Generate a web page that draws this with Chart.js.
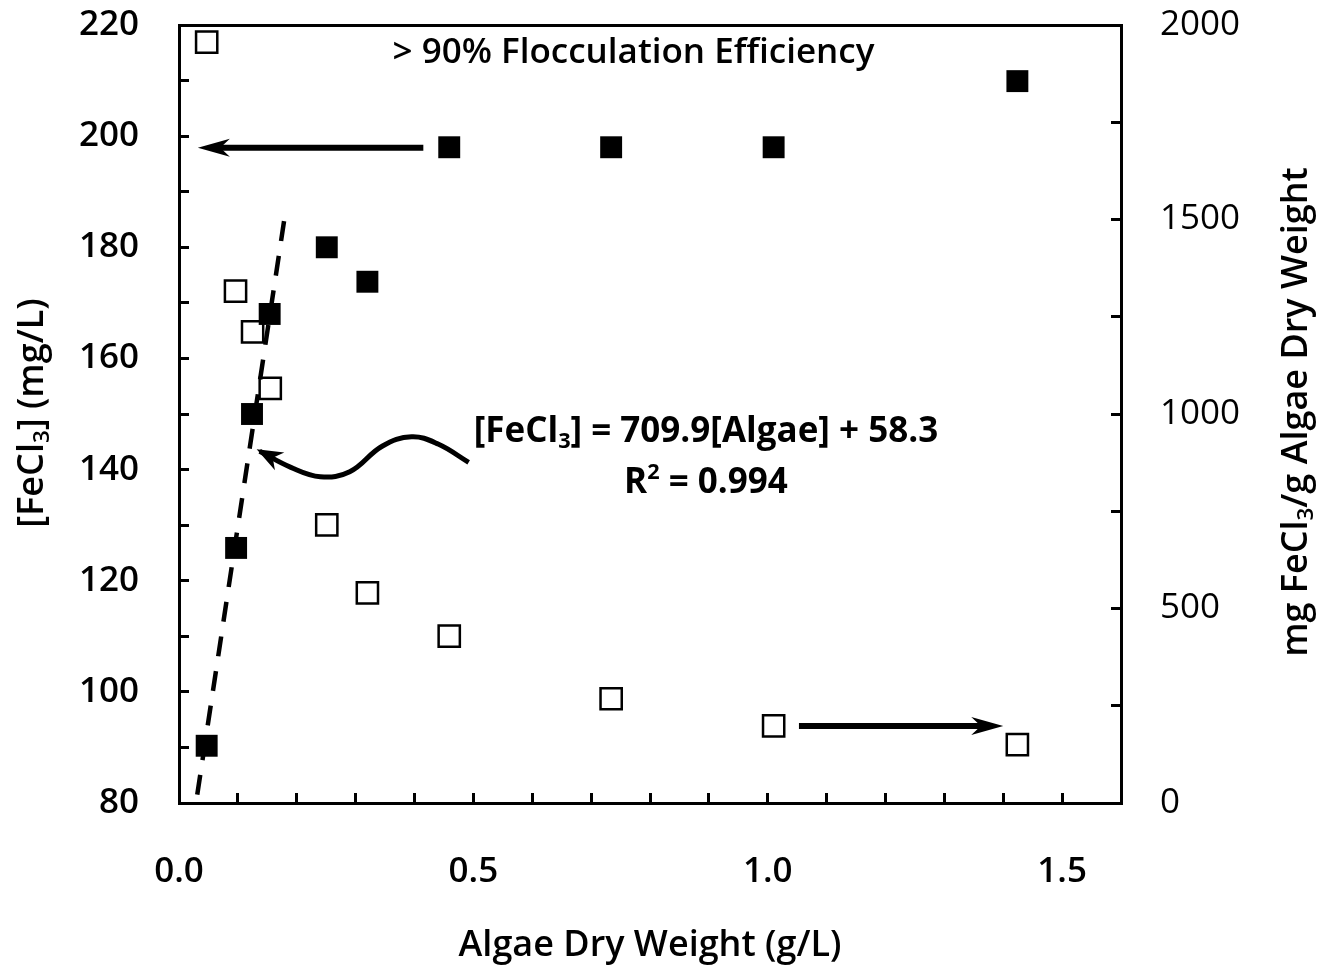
<!DOCTYPE html>
<html>
<head>
<meta charset="utf-8">
<script src="https://cdn.jsdelivr.net/npm/chart.js@4.4.1/dist/chart.umd.min.js"></script>
<style>
  html, body { margin: 0; padding: 0; background: #fff; }
  canvas { display: block; }
</style>
</head>
<body>
<canvas id="chart" width="1317" height="968"></canvas>
<script>
// algae dry weight (g/L)
const algaeDW = [0.047, 0.097, 0.124, 0.154, 0.251, 0.320, 0.459, 0.734, 1.010, 1.424];
// [FeCl3] needed for >90% flocculation (mg/L), left axis
const fecl3Dose = [90.3, 125.9, 150.0, 168.0, 180.0, 173.8, 198.0, 198.0, 198.0, 209.9];
// x of open squares (same samples)
const algaeDWOpen = [0.047, 0.096, 0.125, 0.155, 0.251, 0.320, 0.459, 0.734, 1.010, 1.424];
// mg FeCl3 / g algae dry weight, right axis
const specificDose = [1956, 1316, 1211, 1066, 715, 540, 429, 268, 198, 150];

// linear fit drawn as dashed line, end points
const fitX = [0.031, 0.181];
const fitY = [81.5, 186.5];

// wavy pointer to the fit line (left axis units)
const waveX = [0.137, 0.19, 0.24, 0.29, 0.345, 0.395, 0.44, 0.492];
const waveY = [143.3, 140.4, 138.7, 139.6, 144.2, 145.9, 144.6, 141.3];

// straight arrows: [x0, y0, x1, y1] in data units (tip is x1,y1)
const arrowLeft = [0.415, 197.9, 0.032, 197.9];     // left axis
const arrowRight = [1.053, 198, 1.400, 198];        // right axis

const FONT = "'Open Sans', 'DejaVu Sans', sans-serif";

function drawRuns(ctx, runs, x, y, size, weight, align) {
  // runs: [{t, sub, sup}]
  const parts = runs.map(r => {
    const s = (r.sub || r.sup) ? size * 0.62 : size;
    ctx.font = weight + " " + s + "px " + FONT;
    return { r, s, w: ctx.measureText(r.t).width };
  });
  const total = parts.reduce((a, p) => a + p.w, 0);
  let cx = align === "center" ? x - total / 2 : x;
  ctx.textAlign = "left";
  ctx.textBaseline = "middle";
  parts.forEach(p => {
    ctx.font = weight + " " + p.s + "px " + FONT;
    let dy = 0;
    if (p.r.sub) dy = size * 0.28;
    if (p.r.sup) dy = -size * 0.3;
    ctx.fillText(p.r.t, cx, y + dy);
    cx += p.w;
  });
}

function arrowHead(ctx, x0, y0, x1, y1, len, half) {
  const a = Math.atan2(y1 - y0, x1 - x0);
  ctx.beginPath();
  ctx.moveTo(x1, y1);
  ctx.lineTo(x1 - len * Math.cos(a) + half * Math.sin(a), y1 - len * Math.sin(a) - half * Math.cos(a));
  ctx.lineTo(x1 - len * 0.7 * Math.cos(a), y1 - len * 0.7 * Math.sin(a));
  ctx.lineTo(x1 - len * Math.cos(a) - half * Math.sin(a), y1 - len * Math.sin(a) + half * Math.cos(a));
  ctx.closePath();
  ctx.fill();
}

const annotations = {
  id: "annotations",
  afterDatasetsDraw(chart) {
    const { ctx, scales } = chart;
    const x = scales.x, yl = scales.y, yr = scales.y2;
    ctx.save();
    ctx.fillStyle = "#000";
    ctx.strokeStyle = "#000";
    ctx.lineCap = "butt";

    // left arrow
    let ax0 = x.getPixelForValue(arrowLeft[0]), ay0 = yl.getPixelForValue(arrowLeft[1]);
    let ax1 = x.getPixelForValue(arrowLeft[2]), ay1 = yl.getPixelForValue(arrowLeft[3]);
    ctx.lineWidth = 6;
    ctx.beginPath(); ctx.moveTo(ax0, ay0); ctx.lineTo(ax1 + 20, ay1); ctx.stroke();
    arrowHead(ctx, ax0, ay0, ax1, ay1, 32, 9);

    // right arrow
    ax0 = x.getPixelForValue(arrowRight[0]); ay0 = yr.getPixelForValue(arrowRight[1]);
    ax1 = x.getPixelForValue(arrowRight[2]); ay1 = yr.getPixelForValue(arrowRight[3]);
    ctx.beginPath(); ctx.moveTo(ax0, ay0); ctx.lineTo(ax1 - 20, ay1); ctx.stroke();
    arrowHead(ctx, ax0, ay0, ax1, ay1, 32, 9);

    // head of the wavy arrow
    const wx0 = x.getPixelForValue(waveX[1]), wy0 = yl.getPixelForValue(waveY[1]);
    const wx1 = x.getPixelForValue(waveX[0]) - 3, wy1 = yl.getPixelForValue(waveY[0]) - 2;
    arrowHead(ctx, wx0, wy0, wx1, wy1, 26, 10);

    // texts
    ctx.fillStyle = "#000";
    drawRuns(ctx, [{ t: "> 90% Flocculation Efficiency" }],
      x.getPixelForValue(0.772), yl.getPixelForValue(215.0), 35, "600", "center");
    drawRuns(ctx, [{ t: "[FeCl" }, { t: "3", sub: true }, { t: "] = 709.9[Algae] + 58.3" }],
      x.getPixelForValue(0.895), yl.getPixelForValue(146.8), 35, "700", "center");
    drawRuns(ctx, [{ t: "R" }, { t: "2", sup: true }, { t: " = 0.994" }],
      x.getPixelForValue(0.895), yl.getPixelForValue(137.6), 35, "700", "center");

    // axis titles
    drawRuns(ctx, [{ t: "Algae Dry Weight (g/L)" }], 650, 946, 36, "600", "center");

    ctx.save();
    ctx.translate(33, 413);
    ctx.rotate(-Math.PI / 2);
    drawRuns(ctx, [{ t: "[FeCl" }, { t: "3", sub: true }, { t: "] (mg/L)" }], 0, 0, 36, "600", "center");
    ctx.restore();

    ctx.save();
    ctx.translate(1297, 412);
    ctx.rotate(-Math.PI / 2);
    drawRuns(ctx, [{ t: "mg FeCl" }, { t: "3", sub: true }, { t: "/g Algae Dry Weight" }], 0, 0, 36, "600", "center");
    ctx.restore();

    ctx.restore();
  }
};

const axisBorder = { display: true, color: "#000", width: 3 };
const tickFont = { family: FONT, size: 35, weight: "600" };

new Chart(document.getElementById("chart"), {
  type: "scatter",
  data: {
    datasets: [
      {
        label: "fit",
        type: "line",
        data: fitX.map((v, i) => ({ x: v, y: fitY[i] })),
        yAxisID: "y",
        borderColor: "#000",
        borderWidth: 4.5,
        borderDash: [20, 15],
        pointRadius: 0,
        fill: false,
      },
      {
        label: "wave",
        type: "line",
        data: waveX.map((v, i) => ({ x: v, y: waveY[i] })),
        yAxisID: "y",
        borderColor: "#000",
        borderWidth: 5,
        tension: 0.4,
        pointRadius: 0,
        fill: false,
      },
      {
        label: "[FeCl3] (mg/L)",
        data: algaeDW.map((v, i) => ({ x: v, y: fecl3Dose[i] })),
        yAxisID: "y",
        pointStyle: "rect",
        pointRadius: 15.5,
        backgroundColor: "#000",
        borderColor: "#000",
        borderWidth: 0,
      },
      {
        label: "mg FeCl3/g Algae Dry Weight",
        data: algaeDWOpen.map((v, i) => ({ x: v, y: specificDose[i] })),
        yAxisID: "y2",
        pointStyle: "rect",
        pointRadius: 15,
        backgroundColor: "rgba(255,255,255,0)",
        borderColor: "#000",
        borderWidth: 2.5,
      },
    ],
  },
  options: {
    responsive: false,
    animation: false,
    layout: { padding: { left: 0, right: 0, top: 25, bottom: 0 } },
    plugins: { legend: { display: false }, tooltip: { enabled: false } },
    scales: {
      x: {
        type: "linear",
        position: "bottom",
        min: 0,
        max: 1.6,
        afterFit: (s) => { s.height = 165; s.paddingLeft = 0; s.paddingRight = 0; },
        border: axisBorder,
        grid: { drawOnChartArea: false, color: "#000", lineWidth: 3, tickLength: -10 },
        ticks: {
          stepSize: 0.1,
          padding: 58,
          color: "#000",
          font: tickFont,
          maxRotation: 0,
          autoSkip: false,
          callback: (v) => {
            const t = Math.round(v * 10);
            return t % 5 === 0 ? (t / 10).toFixed(1) : "";
          },
        },
      },
      xTop: {
        type: "linear",
        position: "top",
        min: 0,
        max: 1.6,
        afterFit: (s) => { s.height = 0; s.paddingLeft = 0; s.paddingRight = 0; },
        border: axisBorder,
        grid: { display: true, drawOnChartArea: false, drawTicks: false, color: "rgba(0,0,0,0)" },
        ticks: { display: false },
      },
      y: {
        type: "linear",
        position: "left",
        min: 80,
        max: 220,
        afterFit: (s) => { s.width = 179; s.paddingTop = 0; s.paddingBottom = 0; },
        border: axisBorder,
        grid: { drawOnChartArea: false, color: "#000", lineWidth: 3, tickLength: -10 },
        ticks: {
          stepSize: 10,
          padding: 50,
          color: "#000",
          font: tickFont,
          autoSkip: false,
          callback: (v) => (Math.round(v) % 20 === 0 ? String(v) : ""),
        },
      },
      y2: {
        type: "linear",
        position: "right",
        min: 0,
        max: 2000,
        afterFit: (s) => { s.width = 196; s.paddingTop = 0; s.paddingBottom = 0; },
        border: axisBorder,
        grid: { drawOnChartArea: false, color: "#000", lineWidth: 3, tickLength: -10 },
        ticks: {
          stepSize: 250,
          padding: 49,
          color: "#000",
          font: { family: FONT, size: 35, weight: "500" },
          autoSkip: false,
          callback: (v) => (Math.round(v) % 500 === 0 ? String(v) : ""),
        },
      },
    },
  },
  plugins: [annotations],
});
</script>
</body>
</html>
